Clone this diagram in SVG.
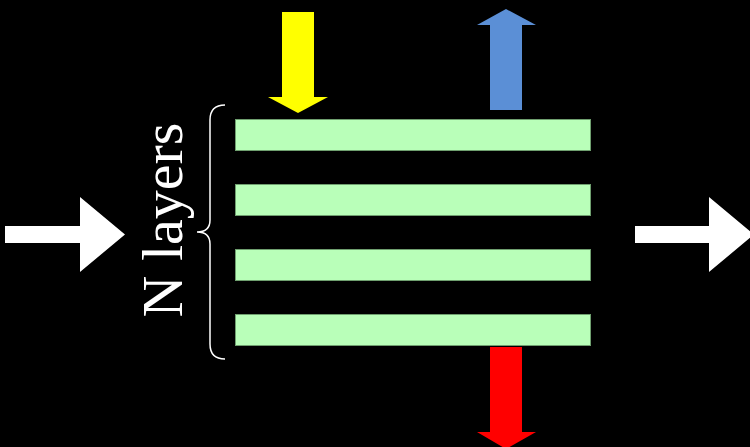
<svg xmlns="http://www.w3.org/2000/svg" width="750" height="447" viewBox="0 0 750 447">
<style>
.bar{fill:#b9ffb9;stroke:#6f9f6f;stroke-width:1}
.lbl{font-family:"Liberation Serif","Times New Roman",serif;font-size:58px;fill:#fff}
</style>
<rect width="750" height="447" fill="#000"/>
<g id="layers">
<rect id="layer1" class="bar" x="235.5" y="119.5" width="355" height="31"/>
<rect id="layer2" class="bar" x="235.5" y="184.5" width="355" height="31"/>
<rect id="layer3" class="bar" x="235.5" y="249.5" width="355" height="31"/>
<rect id="layer4" class="bar" x="235.5" y="314.5" width="355" height="31"/>
</g>
<g id="label">
<path d="M225,105 Q210,105 210,120 L210,220 Q210,232 197,232 Q210,232 210,244 L210,344 Q210,359 225,359" fill="none" stroke="#fff" stroke-width="1.5"/>
<text class="lbl" transform="translate(182,220) rotate(-90)" text-anchor="middle">N layers</text>
</g>
<g id="connectors">
<polygon id="yellow" fill="#ffff00" points="282,12 314,12 314,97 328,97 298,113 268,97 282,97"/>
<polygon id="blue" fill="#5b8fd6" points="490,110 522,110 522,25 536,25 506,9 477,25 490,25"/>
<polygon id="red" fill="#ff0000" points="490,347 522,347 522,432 536,432 506,449 477,432 490,432"/>
<polygon id="in" fill="#fff" points="5,226 80,226 80,197 125,234.5 80,272 80,243 5,243"/>
<polygon id="out" fill="#fff" points="635,226 709,226 709,197 754,234.5 709,272 709,243 635,243"/>
</g>
</svg>
